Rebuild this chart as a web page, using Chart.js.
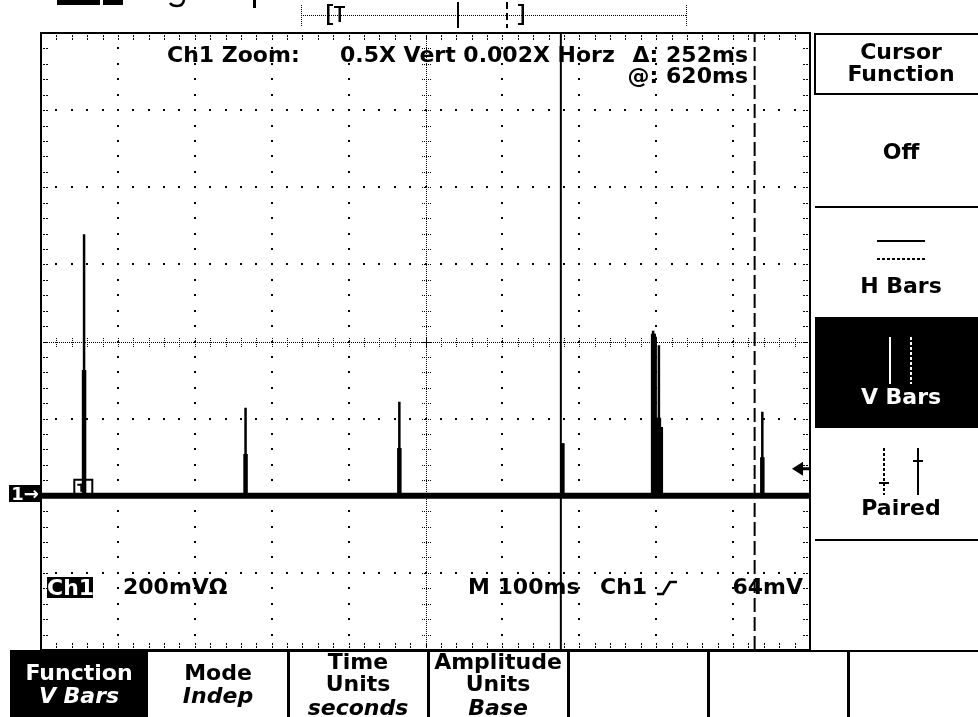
<!DOCTYPE html>
<html lang="en">
<head>
<meta charset="UTF-8">
<title>Ch1 Zoom - V Bars cursors</title>
<script src="https://cdn.jsdelivr.net/npm/chart.js"></script>
<style>
  html, body { margin: 0; padding: 0; background: #fff; overflow: hidden; }
  #wrap { position: relative; width: 978px; height: 717px; overflow: hidden; background: #fff; }
  #scope { position: absolute; left: 0; top: 0; }
  .t { position: absolute; font-family: 'DejaVu Sans', sans-serif; font-weight: bold; font-size: 22px;
       line-height: 22px; color: #000; white-space: nowrap; }
  .c { text-align: center; }
  .i { font-style: italic; }
  .w { color: #fff; }
</style>
</head>
<body>
<div id="wrap">
  <canvas id="scope" width="978" height="717"></canvas>

  <!-- readouts inside the graticule -->
  <div class="t" style="left:167px; top:44px;">Ch1 Zoom:</div>
  <div class="t" style="left:340px; top:44px;">0.5X Vert 0.002X Horz</div>
  <div class="t" style="right:230px; top:44px; text-align:right;">Δ: 252ms</div>
  <div class="t" style="right:230px; top:65px; text-align:right;">@: 620ms</div>

  <div class="t w" style="left:47px; top:577px; width:46px; height:21px; line-height:21px; background:#000; text-align:center;">Ch1</div>
  <div class="t" style="left:123px; top:576px;">200mVΩ</div>
  <div class="t" style="left:468px; top:576px;">M 100ms</div>
  <div class="t" style="left:600px; top:576px;">Ch1</div>
  <div class="t" style="right:175px; top:576px; text-align:right;">64mV</div>

  <div class="t w c" style="left:9px; top:485px; width:32px; height:17px; line-height:17px; font-size:18px; background:#000;">1→</div>

  <!-- side menu -->
  <div class="t c" style="left:815px; width:172px; top:41px;">Cursor<br>Function</div>
  <div class="t c" style="left:815px; width:172px; top:141px;">Off</div>
  <div class="t c" style="left:815px; width:172px; top:275px;">H Bars</div>
  <div class="t c w" style="left:815px; width:172px; top:386px;">V Bars</div>
  <div class="t c" style="left:815px; width:172px; top:497px;">Paired</div>

  <!-- bottom menu -->
  <div class="t c w" style="left:10px; width:138px; top:662px;">Function</div>
  <div class="t c w i" style="left:10px; width:138px; top:685px;">V Bars</div>
  <div class="t c" style="left:148px; width:140px; top:662px;">Mode</div>
  <div class="t c i" style="left:148px; width:140px; top:685px;">Indep</div>
  <div class="t c" style="left:288px; width:140px; top:651px;">Time</div>
  <div class="t c" style="left:288px; width:140px; top:673px;">Units</div>
  <div class="t c i" style="left:288px; width:140px; top:697px;">seconds</div>
  <div class="t c" style="left:428px; width:140px; top:651px;">Amplitude</div>
  <div class="t c" style="left:428px; width:140px; top:673px;">Units</div>
  <div class="t c i" style="left:428px; width:140px; top:697px;">Base</div>
</div>

<script>
// time axis in ms (10 divisions of 100 ms), vertical axis in divisions (8 divisions)
const timeRange = [0, 1000];
const divRange = [-4, 4];
const baselineLevel = -2;

// glitches: time (ms), tip of the thin needle, top of the thick part (div)
const spikeTimes  = [56,    266,   466,   678,   796,  798,  801,   803.5, 806,   938];
const spikePeaks  = [1.39, -0.86, -0.78, -1.32,  0.14, 0.10, -0.99, -0.05, -1.11, -0.91];
const spikeBodies = [-0.37, -1.46, -1.38, -1.32, 0.10, 0.06, -0.99, -0.99, -1.11, -1.50];

// V Bars cursors (ms): solid and dashed
const cursorTimes = [676, 928];
// trigger position (ms) and trigger level (div)
const triggerTime = 55;
const triggerLevel = -1.65;

function needles(tops) {
    const pts = [];
    spikeTimes.forEach((t, i) => {
        pts.push({ x: t, y: baselineLevel }, { x: t, y: tops[i] }, { x: t, y: null });
    });
    return pts;
}

// dotted graticule with the center cross and edge ticks
const graticule = {
    id: 'graticule',
    beforeDatasetsDraw(chart) {
        const { ctx, chartArea: a, scales: { x, y } } = chart;
        const xs = [], ys = [];
        for (let k = 0; k <= 50; k++) xs.push(x.getPixelForValue(timeRange[0] + k * 20));
        for (let k = 0; k <= 40; k++) ys.push(y.getPixelForValue(divRange[0] + k * 0.2));
        const dot = (px, py) => ctx.fillRect(Math.round(px) - 1, Math.round(py) - 1, 2, 2);
        ctx.save();
        ctx.fillStyle = '#000';
        for (let d = 1; d < 10; d++) if (d !== 5) ys.forEach(py => dot(xs[d * 5], py));
        for (let d = 1; d < 8; d++) if (d !== 4) xs.forEach(px => dot(px, ys[d * 5]));

        const cx = Math.round(xs[25]), cy = Math.round(ys[20]);
        for (let px = a.left; px < a.right; px += 2) ctx.fillRect(Math.round(px), cy, 1, 1);
        for (let py = a.top; py < a.bottom; py += 2) ctx.fillRect(cx, Math.round(py), 1, 1);
        xs.forEach(px => { for (let o = -4; o <= 4; o += 2) ctx.fillRect(Math.round(px), cy + o, 1, 1); });
        ys.forEach(py => { for (let o = -4; o <= 4; o += 2) ctx.fillRect(cx + o, Math.round(py), 1, 1); });

        // edge ticks
        xs.slice(1, -1).forEach(px => {
            const p = Math.round(px);
            ctx.fillRect(p, a.top + 2, 1, 2); ctx.fillRect(p, a.top + 5, 1, 2);
            ctx.fillRect(p, a.bottom - 4, 1, 2); ctx.fillRect(p, a.bottom - 7, 1, 2);
        });
        ys.slice(1, -1).forEach(py => {
            const p = Math.round(py);
            ctx.fillRect(a.left + 2, p, 2, 1); ctx.fillRect(a.left + 5, p, 2, 1);
            ctx.fillRect(a.right - 4, p, 2, 1); ctx.fillRect(a.right - 7, p, 2, 1);
        });

        ctx.strokeStyle = '#000';
        ctx.lineWidth = 2;
        ctx.strokeRect(a.left, a.top, a.right - a.left, a.bottom - a.top);
        ctx.restore();
    }
};

// markers on the trace and the rest of the scope screen
const screenParts = {
    id: 'screenParts',
    afterDraw(chart) {
        const { ctx, scales: { x, y } } = chart;
        ctx.save();
        ctx.fillStyle = '#000';
        ctx.strokeStyle = '#000';

        // trigger level arrow
        const ty = y.getPixelForValue(triggerLevel);
        ctx.beginPath();
        ctx.moveTo(792, ty); ctx.lineTo(803, ty - 7); ctx.lineTo(803, ty + 7); ctx.closePath();
        ctx.fill();
        ctx.fillRect(802, ty - 1.5, 8, 3);

        // trigger position box on the baseline
        const tx = x.getPixelForValue(triggerTime), by = y.getPixelForValue(baselineLevel);
        ctx.lineWidth = 2;
        ctx.beginPath();
        ctx.moveTo(tx - 9, by - 2); ctx.lineTo(tx - 9, by - 16); ctx.lineTo(tx + 9, by - 16); ctx.lineTo(tx + 9, by - 2);
        ctx.stroke();
        ctx.fillRect(tx - 6, by - 12, 5, 2); ctx.fillRect(tx - 3, by - 12, 2, 8);

        // trigger slope symbol
        ctx.lineWidth = 2.5;
        ctx.beginPath();
        ctx.moveTo(657, 594); ctx.lineTo(663, 594); ctx.lineTo(670, 582); ctx.lineTo(677, 582);
        ctx.stroke();

        // top status line (cut off) and record view bar
        ctx.fillRect(57, 0, 43, 5);
        ctx.fillRect(103, 0, 20, 5);
        ctx.lineWidth = 2.5;
        ctx.beginPath();
        ctx.moveTo(184, 0); ctx.quadraticCurveTo(183, 6, 177, 6); ctx.quadraticCurveTo(172, 6, 170, 3);
        ctx.stroke();
        ctx.fillRect(253, 0, 3, 8);
        for (let px = 301; px <= 686; px += 2) ctx.fillRect(px, 15, 1, 1);
        for (let py = 5; py <= 25; py += 2) { ctx.fillRect(301, py, 1, 1); ctx.fillRect(686, py, 1, 1); }
        ctx.fillRect(327, 4, 2.5, 21); ctx.fillRect(327, 4, 6, 2); ctx.fillRect(327, 23, 6, 2);
        ctx.fillRect(334, 6, 11, 2); ctx.fillRect(338.5, 6, 2.5, 16);
        ctx.fillRect(457, 2, 2, 26);
        [[2, 9], [13, 20], [24, 28]].forEach(s => ctx.fillRect(506, s[0], 2, s[1] - s[0]));
        ctx.fillRect(521.5, 4, 2.5, 21); ctx.fillRect(518, 4, 6, 2); ctx.fillRect(518, 23, 6, 2);

        // side menu
        ctx.lineWidth = 2;
        ctx.strokeRect(815, 34, 170, 60);
        ctx.fillRect(815, 206, 163, 2);
        ctx.fillRect(815, 317, 163, 111);
        ctx.fillRect(815, 539, 163, 2);
        ctx.beginPath(); ctx.moveTo(877, 241); ctx.lineTo(925, 241); ctx.stroke();
        ctx.setLineDash([3, 2]);
        ctx.beginPath(); ctx.moveTo(877, 259); ctx.lineTo(925, 259); ctx.stroke();
        ctx.beginPath(); ctx.moveTo(884, 448); ctx.lineTo(884, 495); ctx.stroke();
        ctx.strokeStyle = '#fff';
        ctx.beginPath(); ctx.moveTo(911, 337); ctx.lineTo(911, 384); ctx.stroke();
        ctx.setLineDash([]);
        ctx.beginPath(); ctx.moveTo(890, 337); ctx.lineTo(890, 384); ctx.stroke();
        ctx.strokeStyle = '#000';
        ctx.beginPath(); ctx.moveTo(918, 448); ctx.lineTo(918, 495); ctx.stroke();
        ctx.beginPath(); ctx.moveTo(879, 483); ctx.lineTo(889, 483); ctx.stroke();
        ctx.beginPath(); ctx.moveTo(913, 461); ctx.lineTo(923, 461); ctx.stroke();

        // bottom menu
        ctx.fillRect(10, 650, 968, 2);
        ctx.fillRect(10, 651, 138, 66);
        [288, 428, 568, 708, 848].forEach(px => ctx.fillRect(px - 1, 651, 3, 66));
        ctx.restore();
    }
};

const ctx = document.getElementById('scope').getContext('2d');
new Chart(ctx, {
    type: 'line',
    data: {
        datasets: [
            { label: 'Ch1 needles', data: needles(spikePeaks), borderColor: '#000', borderWidth: 2.5 },
            { label: 'Ch1 body', data: needles(spikeBodies), borderColor: '#000', borderWidth: 4.5 },
            { label: 'Ch1 baseline', data: [{ x: timeRange[0], y: baselineLevel }, { x: timeRange[1], y: baselineLevel }],
              borderColor: '#000', borderWidth: 6 },
            { label: 'Cursor 1', data: [{ x: cursorTimes[0], y: divRange[0] }, { x: cursorTimes[0], y: divRange[1] }],
              borderColor: '#000', borderWidth: 2 },
            { label: 'Cursor 2', data: [{ x: cursorTimes[1], y: divRange[0] }, { x: cursorTimes[1], y: divRange[1] }],
              borderColor: '#000', borderWidth: 2, borderDash: [14, 5] }
        ]
    },
    options: {
        responsive: false,
        animation: false,
        events: [],
        layout: { padding: { left: 41, right: 168, top: 33, bottom: 67 } },
        elements: {
            point: { radius: 0 },
            line: { tension: 0, borderJoinStyle: 'bevel', borderCapStyle: 'butt', fill: false }
        },
        plugins: { legend: { display: false }, tooltip: { enabled: false } },
        scales: {
            x: { type: 'linear', min: timeRange[0], max: timeRange[1], display: false },
            y: { type: 'linear', min: divRange[0], max: divRange[1], display: false }
        }
    },
    plugins: [graticule, screenParts]
});
</script>
</body>
</html>
